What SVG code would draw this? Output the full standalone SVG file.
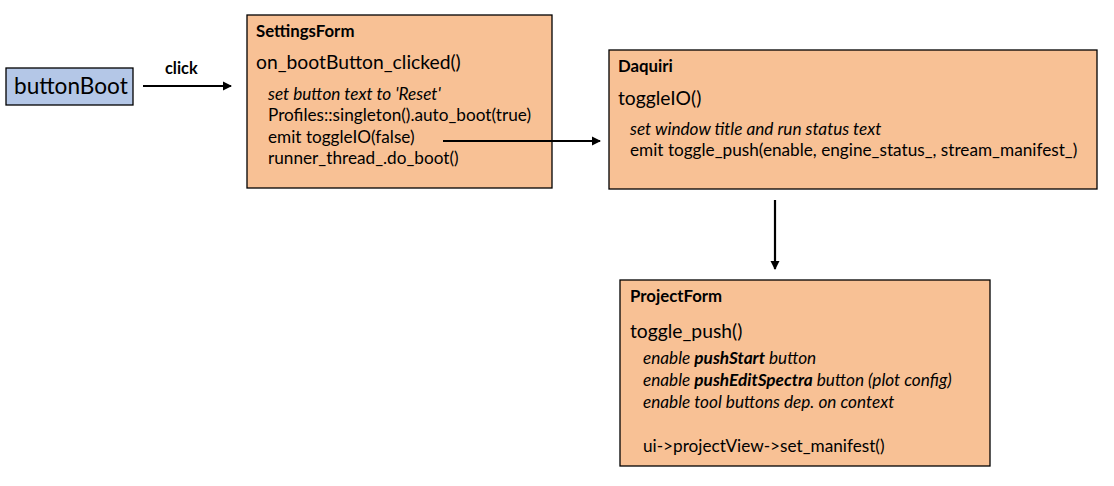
<svg xmlns="http://www.w3.org/2000/svg" width="1114" height="486" viewBox="0 0 1114 486">
<style>
text{font-family:Lato,"Liberation Sans",sans-serif;fill:#000}
.box{fill:#f8c195;stroke:#000;stroke-width:1.3}
.title{font-weight:bold;font-size:16.8px}
.method{font-size:19.3px}
.body{font-size:17.2px}
.it{font-style:italic}
.b{font-weight:bold}
.conn{stroke:#000;stroke-width:2.2;fill:none}
</style>
<defs>
<marker id="ah" markerWidth="9" markerHeight="10" refX="8" refY="5" orient="auto" markerUnits="userSpaceOnUse">
<path d="M0,0.5 L9,5 L0,9.5 Z" fill="#000"/>
</marker>
</defs>
<rect width="1114" height="486" fill="#fff"/>
<g id="buttonBoot">
<rect x="6" y="68" width="127" height="37" fill="#b4c7e7" stroke="#000" stroke-width="1.3"/>
<text x="14" y="94" font-size="22.6px">buttonBoot</text>
</g>
<g id="SettingsForm">
<rect class="box" x="247" y="15" width="305" height="173"/>
<text class="title" x="256" y="37">SettingsForm</text>
<text class="method" x="256" y="69">on_bootButton_clicked()</text>
<text class="body it" x="268" y="100">set button text to 'Reset'</text>
<text class="body" x="268" y="121">Profiles::singleton().auto_boot(true)</text>
<text class="body" x="268" y="143">emit toggleIO(false)</text>
<text class="body" x="268" y="164">runner_thread_.do_boot()</text>
</g>
<g id="Daquiri">
<rect class="box" x="609" y="50" width="488" height="139"/>
<text class="title" x="618" y="72">Daquiri</text>
<text class="method" x="618" y="105">toggleIO()</text>
<text class="body it" x="630" y="135">set window title and run status text</text>
<text class="body" x="630" y="156">emit toggle_push(enable, engine_status_, stream_manifest_)</text>
</g>
<g id="ProjectForm">
<rect class="box" x="620" y="280" width="370" height="186"/>
<text class="title" x="630" y="302">ProjectForm</text>
<text class="method" x="630" y="338">toggle_push()</text>
<text class="body it" x="643" y="364">enable <tspan class="b">pushStart</tspan> button</text>
<text class="body it" x="643" y="386">enable <tspan class="b">pushEditSpectra</tspan> button (plot config)</text>
<text class="body it" x="643" y="408">enable tool buttons dep. on context</text>
<text class="body" x="643" y="452">ui-&gt;projectView-&gt;set_manifest()</text>
</g>
<g id="connectors">
<line class="conn" x1="143" y1="86" x2="231" y2="86" marker-end="url(#ah)"/>
<text class="b" x="165" y="74" font-size="16.3px">click</text>
<line class="conn" x1="443" y1="141" x2="600" y2="141" marker-end="url(#ah)"/>
<line class="conn" x1="775" y1="200" x2="775" y2="269" marker-end="url(#ah)"/>
</g>
</svg>
